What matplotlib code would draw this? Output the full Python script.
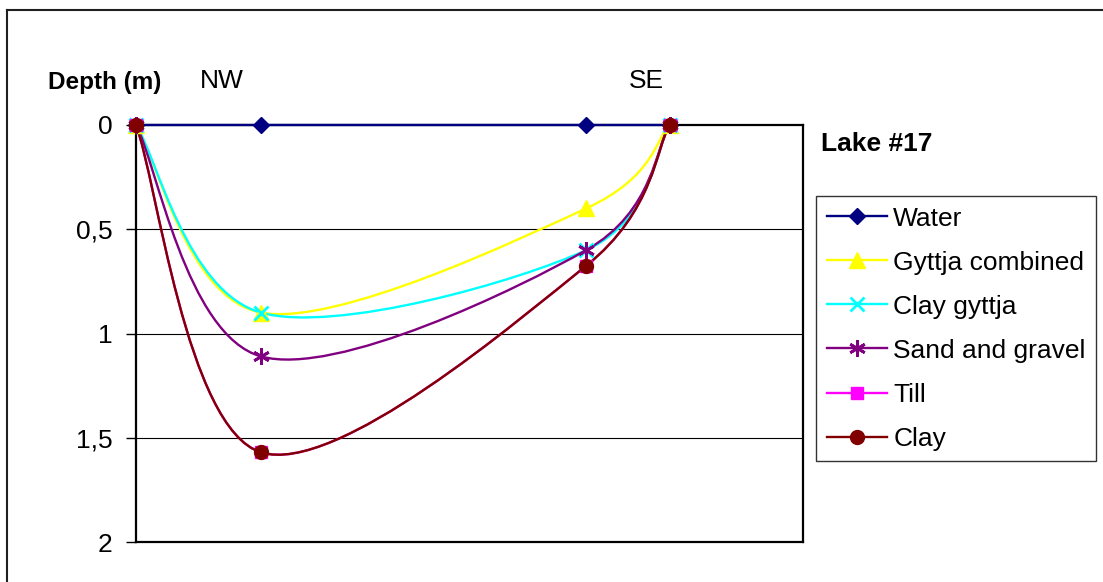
import matplotlib
matplotlib.use("Agg")
import matplotlib.pyplot as plt
from matplotlib.path import Path
from matplotlib.patches import PathPatch
from matplotlib.lines import Line2D
import numpy as np

plt.rcParams['font.family'] = ['Liberation Sans', 'DejaVu Sans']

# Distance along the NW-SE profile and depth of each layer boundary
distance = [0, 15, 54, 64]
water = [0, 0, 0, 0]
gyttja_combined = [0, 0.90, 0.40, 0]
clay_gyttja = [0, 0.90, 0.60, 0]
sand_gravel = [0, 1.11, 0.60, 0]
till = [0, 1.57, 0.675, 0]
clay = [0, 1.57, 0.675, 0]

series = [
    ("Water", water, "#000080", "D", 8),
    ("Gyttja combined", gyttja_combined, "#FFFF00", "^", 11),
    ("Clay gyttja", clay_gyttja, "#00FFFF", "x", 10),
    ("Sand and gravel", sand_gravel, "#800080", (6, 2, 0), 12),
    ("Till", till, "#FF00FF", "s", 9),
    ("Clay", clay, "#800000", "o", 10),
]

y_ticks = [0, 0.5, 1, 1.5, 2]
y_ticklabels = ["0", "0,5", "1", "1,5", "2"]


def smooth_path(xs, ys, k=1 / 6.0):
    """Catmull-Rom style cubic Bezier through the points (spreadsheet smoothing)."""
    pts = np.column_stack([xs, ys]).astype(float)
    n = len(pts)
    verts = [pts[0]]
    codes = [Path.MOVETO]
    for i in range(n - 1):
        p0 = pts[i - 1] if i > 0 else pts[i]
        p1 = pts[i]
        p2 = pts[i + 1]
        p3 = pts[i + 2] if i + 2 < n else pts[i + 1]
        c1 = p1 + (p2 - p0) * k
        c2 = p2 - (p3 - p1) * k
        verts += [c1, c2, p2]
        codes += [Path.CURVE4] * 3
    return Path(verts, codes)


W, H = 1103, 582
fig = plt.figure(figsize=(W / 100, H / 100), dpi=100)
fig.patch.set_facecolor("white")

# outer chart frame (left and top edges)
fig.add_artist(Line2D([7 / W, 7 / W], [0, 1 - 10 / H], color="#202020", lw=1.5,
                      transform=fig.transFigure))
fig.add_artist(Line2D([7 / W, 1], [1 - 10 / H, 1 - 10 / H], color="#202020", lw=1.5,
                      transform=fig.transFigure))

ax = fig.add_axes([136 / W, 1 - 542 / H, (803 - 136) / W, (542 - 125) / H])
ax.set_xlim(0, 80)
ax.set_ylim(2, 0)

for yv in [0.5, 1, 1.5]:
    ax.axhline(yv, color="black", lw=0.8, zorder=1)

handles = []
for label, vals, color, marker, ms in series:
    patch = PathPatch(smooth_path(distance, vals), fill=False, edgecolor=color,
                      lw=1.7, zorder=3, clip_on=False)
    ax.add_patch(patch)
    mew = 2 if marker in ("x", (6, 2, 0)) else 1
    ax.plot(distance, vals, marker=marker, markersize=ms, color=color,
            linestyle="none", markeredgewidth=mew, zorder=4, clip_on=False)
    handles.append(Line2D([], [], color=color, lw=1.7, marker=marker,
                          markersize=ms, markeredgewidth=mew))

for s in ax.spines.values():
    s.set_linewidth(1.6)
    s.set_color("black")

ax.set_xticks([])
ax.set_yticks(y_ticks)
ax.set_yticklabels(y_ticklabels)
ax.tick_params(axis="y", length=7, width=1, pad=10, labelsize=19, direction="out")

fig.text(48 / W, 1 - 83 / H, "Depth (m)", fontsize=17.5, fontweight="bold",
         ha="left", va="center")
fig.text(222 / W, 1 - 81 / H, "NW", fontsize=19, ha="center", va="center")
fig.text(646 / W, 1 - 81 / H, "SE", fontsize=19, ha="center", va="center")
fig.text(821 / W, 1 - 144 / H, "Lake #17", fontsize=19, fontweight="bold",
         ha="left", va="center")

leg = fig.legend(handles, [s[0] for s in series], loc="upper left",
                 bbox_to_anchor=(816 / W, 1 - 196 / H), borderaxespad=0,
                 frameon=True, fancybox=False, fontsize=19, handlelength=2.3,
                 handletextpad=0.23, labelspacing=0.76, borderpad=0.40,
                 edgecolor="black")
leg.get_frame().set_linewidth(1.0)

fig.savefig("out.png", dpi=100, facecolor="white")
